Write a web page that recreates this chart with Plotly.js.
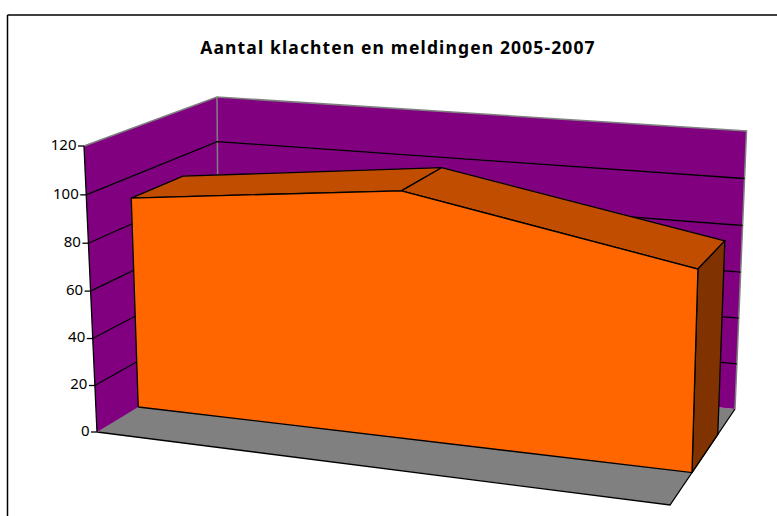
<!DOCTYPE html>
<html><head><meta charset="utf-8">
<script src="https://cdn.plot.ly/plotly-3.0.1.min.js"></script>
<style>html,body{margin:0;padding:0;background:#fff}#c{width:777px;height:516px}
.gtitle{letter-spacing:1.13px}</style></head><body><div id="c"></div>
<script>
const categories=['2005','2006','2007'];
const values=[91,103,81.5];
const yTicks=[0,20,40,60,80,100,120];
const titleText='Aantal klachten en meldingen 2005-2007';
const yMax=120;
// projected box corners of the chart's 3D frame (page pixels)
const BFL=[97,432],BFR=[670,505],BBL=[219,358],BBR=[735,409];
const TFL=[84,146],TFR=[677.5,190],TBL=[217,97],TBR=[746.5,131];
const D1=0.338,D2=0.735,W=1.1,K=1.03;
const LW=1.3;
const lerp=(a,b,t)=>[a[0]+(b[0]-a[0])*t,a[1]+(b[1]-a[1])*t];
function proj(u,d,v){
  const uu=u/(u+W*(1-u));
  const bot=lerp(lerp(BFL,BFR,uu),lerp(BBL,BBR,uu),d);
  const top=lerp(lerp(TFL,TFR,uu),lerp(TBL,TBR,uu),d);
  const t=v/yMax;
  return lerp(bot,top,t/(t+K*(1-t)));
}
const traces=[];
function poly(pts,fill,line,w){
  traces.push({type:'scatter',mode:'lines',x:pts.map(p=>p[0]).concat(pts[0][0]),y:pts.map(p=>p[1]).concat(pts[0][1]),
    fill:'toself',fillcolor:fill,line:{color:line,width:w===undefined?LW:w},hoverinfo:'skip',showlegend:false});
}
function seg(pts,color,w){
  traces.push({type:'scatter',mode:'lines',x:pts.map(p=>p[0]),y:pts.map(p=>p[1]),line:{color:color,width:w||LW},hoverinfo:'skip',showlegend:false});
}
// floor
poly([BFL,BFR,BBR,BBL],'#808080','rgba(0,0,0,0)',0);
seg([BFL,BFR,BBR],'#000');
seg([BFL,BBL],'#808080');
// walls
poly([BFL,BBL,TBL,TFL],'#800080','rgba(0,0,0,0)',0);
poly([BBL,BBR,TBR,TBL],'#800080','rgba(0,0,0,0)',0);
seg([TFL,TBL,TBR,BBR],'#808080',1.5);
seg([TBL,BBL],'#808080',1.5);
// gridlines
yTicks.filter(t=>t>0&&t<yMax).forEach(t=>{
  seg([proj(0,0,t),proj(0,1,t),proj(1,1,t)],'#000');
});
seg([BFL,TFL],'#000');
// ticks
yTicks.forEach(t=>{const p=proj(0,0,t);seg([[p[0]-6,p[1]],p],'#000');});
traces.push({type:'scatter',mode:'text',x:yTicks.map(t=>proj(0,0,t)[0]-7.5),y:yTicks.map(t=>proj(0,0,t)[1]),
  text:yTicks.map(String),textposition:'middle left',textfont:{family:'Noto Sans',size:15,color:'#000'},hoverinfo:'skip',showlegend:false});
// area
const n=values.length,us=values.map((_,i)=>i/(n-1));
for(let i=0;i<n-1;i++){
  poly([proj(us[i],D1,values[i]),proj(us[i+1],D1,values[i+1]),proj(us[i+1],D2,values[i+1]),proj(us[i],D2,values[i])],'#C04D00','#000');
}
poly([proj(1,D1,0),proj(1,D2,0),proj(1,D2,values[n-1]),proj(1,D1,values[n-1])],'#803300','#000');
const front=us.map((u,i)=>proj(u,D1,values[i]));
poly([proj(0,D1,0)].concat(front,[proj(1,D1,0)]),'#FF6600','#000');
const layout={width:777,height:516,margin:{l:0,r:0,t:0,b:0,pad:0},paper_bgcolor:'#fff',plot_bgcolor:'#fff',showlegend:false,
  xaxis:{range:[0,777],visible:false,fixedrange:true},
  yaxis:{range:[516,0],visible:false,fixedrange:true},
  title:{text:'<b>'+titleText+'</b>',x:398/777,xanchor:'center',y:1-48/516,yanchor:'middle',font:{family:'Noto Sans',size:17.5,color:'#000'}},
  shapes:[{type:'line',xref:'x',yref:'y',x0:7.5,y0:15,x1:7.5,y1:516,line:{color:'#000',width:1.5}},
          {type:'line',xref:'x',yref:'y',x0:7.5,y0:15,x1:777,y1:15,line:{color:'#000',width:1.5}}]};
Plotly.newPlot('c',traces,layout,{displayModeBar:false,staticPlot:true});
</script></body></html>
